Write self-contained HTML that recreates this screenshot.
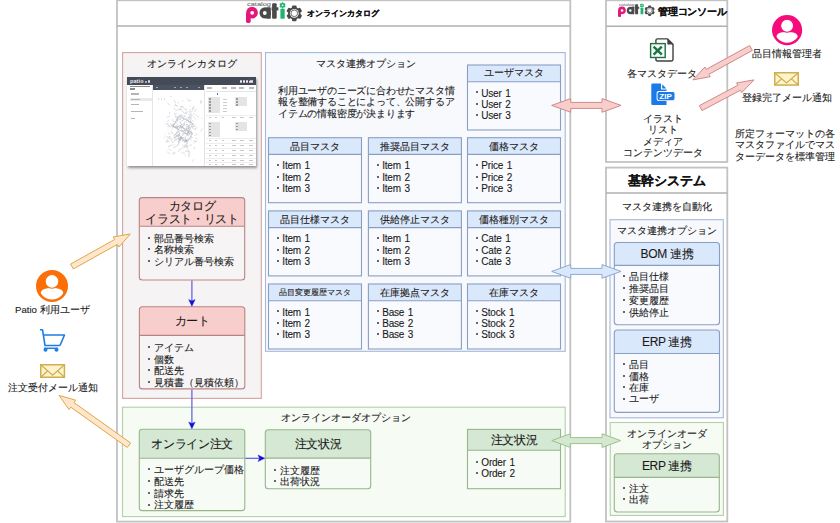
<!DOCTYPE html><html><head><meta charset="utf-8"><style>
html,body{margin:0;padding:0;background:#fff;} body{width:840px;height:523px;position:relative;overflow:hidden;font-family:"Liberation Sans", sans-serif;color:#222}
</style></head><body>
<svg style="position:absolute;left:0;top:0" width="840" height="523" viewBox="0 0 840 523"><rect x="117" y="0.3" width="453.30" height="521.30" rx="0" fill="#fff" stroke="#c2c2c2" stroke-width="1.8"/><line x1="117" y1="26" x2="570.3" y2="26" stroke="#b0b0b0" stroke-width="1.5"/><rect x="122.6" y="52.6" width="138.70" height="345.80" rx="0" fill="#f5f3f3" stroke="#d3a3a1" stroke-width="1.1"/><rect x="139.3" y="197.6" width="105.40" height="82.40" rx="3" fill="#f6f4f4"/><path d="M139.3,226.3 V200.6 a3,3 0 0 1 3,-3 H241.7 a3,3 0 0 1 3,3 V226.3 Z" fill="#f8cecc"/><line x1="139.3" y1="226.3" x2="244.7" y2="226.3" stroke="#b98584" stroke-width="1.1"/><rect x="139.3" y="197.6" width="105.40" height="82.40" rx="3" fill="none" stroke="#b98584" stroke-width="1.1"/><rect x="139.4" y="306.8" width="105.40" height="82.10" rx="3" fill="#f6f4f4"/><path d="M139.4,335.4 V309.8 a3,3 0 0 1 3,-3 H241.8 a3,3 0 0 1 3,3 V335.4 Z" fill="#f8cecc"/><line x1="139.4" y1="335.4" x2="244.8" y2="335.4" stroke="#b98584" stroke-width="1.1"/><rect x="139.4" y="306.8" width="105.40" height="82.10" rx="3" fill="none" stroke="#b98584" stroke-width="1.1"/><rect x="265.5" y="52.6" width="299.70" height="298.70" rx="0" fill="#f7f9fd" stroke="#a5b8da" stroke-width="1.1"/><rect x="467.5" y="65" width="93.00" height="65.00" rx="0" fill="#f8fafe"/><rect x="467.5" y="65" width="93.00" height="16.70" fill="#dae8fc"/><line x1="467.5" y1="81.7" x2="560.5" y2="81.7" stroke="#8a9ec4" stroke-width="1.1"/><rect x="467.5" y="65" width="93.00" height="65.00" rx="0" fill="none" stroke="#8a9ec4" stroke-width="1.1"/><rect x="268.5" y="137.7" width="93.00" height="65.00" rx="0" fill="#f8fafe"/><rect x="268.5" y="137.7" width="93.00" height="16.70" fill="#dae8fc"/><line x1="268.5" y1="154.39999999999998" x2="361.5" y2="154.39999999999998" stroke="#8a9ec4" stroke-width="1.1"/><rect x="268.5" y="137.7" width="93.00" height="65.00" rx="0" fill="none" stroke="#8a9ec4" stroke-width="1.1"/><rect x="368.4" y="137.7" width="93.00" height="65.00" rx="0" fill="#f8fafe"/><rect x="368.4" y="137.7" width="93.00" height="16.70" fill="#dae8fc"/><line x1="368.4" y1="154.39999999999998" x2="461.4" y2="154.39999999999998" stroke="#8a9ec4" stroke-width="1.1"/><rect x="368.4" y="137.7" width="93.00" height="65.00" rx="0" fill="none" stroke="#8a9ec4" stroke-width="1.1"/><rect x="467.5" y="137.7" width="93.00" height="65.00" rx="0" fill="#f8fafe"/><rect x="467.5" y="137.7" width="93.00" height="16.70" fill="#dae8fc"/><line x1="467.5" y1="154.39999999999998" x2="560.5" y2="154.39999999999998" stroke="#8a9ec4" stroke-width="1.1"/><rect x="467.5" y="137.7" width="93.00" height="65.00" rx="0" fill="none" stroke="#8a9ec4" stroke-width="1.1"/><rect x="268.5" y="210.9" width="93.00" height="65.00" rx="0" fill="#f8fafe"/><rect x="268.5" y="210.9" width="93.00" height="16.70" fill="#dae8fc"/><line x1="268.5" y1="227.6" x2="361.5" y2="227.6" stroke="#8a9ec4" stroke-width="1.1"/><rect x="268.5" y="210.9" width="93.00" height="65.00" rx="0" fill="none" stroke="#8a9ec4" stroke-width="1.1"/><rect x="368.4" y="210.9" width="93.00" height="65.00" rx="0" fill="#f8fafe"/><rect x="368.4" y="210.9" width="93.00" height="16.70" fill="#dae8fc"/><line x1="368.4" y1="227.6" x2="461.4" y2="227.6" stroke="#8a9ec4" stroke-width="1.1"/><rect x="368.4" y="210.9" width="93.00" height="65.00" rx="0" fill="none" stroke="#8a9ec4" stroke-width="1.1"/><rect x="467.5" y="210.9" width="93.00" height="65.00" rx="0" fill="#f8fafe"/><rect x="467.5" y="210.9" width="93.00" height="16.70" fill="#dae8fc"/><line x1="467.5" y1="227.6" x2="560.5" y2="227.6" stroke="#8a9ec4" stroke-width="1.1"/><rect x="467.5" y="210.9" width="93.00" height="65.00" rx="0" fill="none" stroke="#8a9ec4" stroke-width="1.1"/><rect x="268.5" y="284" width="93.00" height="65.00" rx="0" fill="#f8fafe"/><rect x="268.5" y="284" width="93.00" height="16.70" fill="#dae8fc"/><line x1="268.5" y1="300.7" x2="361.5" y2="300.7" stroke="#8a9ec4" stroke-width="1.1"/><rect x="268.5" y="284" width="93.00" height="65.00" rx="0" fill="none" stroke="#8a9ec4" stroke-width="1.1"/><rect x="368.4" y="284" width="93.00" height="65.00" rx="0" fill="#f8fafe"/><rect x="368.4" y="284" width="93.00" height="16.70" fill="#dae8fc"/><line x1="368.4" y1="300.7" x2="461.4" y2="300.7" stroke="#8a9ec4" stroke-width="1.1"/><rect x="368.4" y="284" width="93.00" height="65.00" rx="0" fill="none" stroke="#8a9ec4" stroke-width="1.1"/><rect x="467.5" y="284" width="93.00" height="65.00" rx="0" fill="#f8fafe"/><rect x="467.5" y="284" width="93.00" height="16.70" fill="#dae8fc"/><line x1="467.5" y1="300.7" x2="560.5" y2="300.7" stroke="#8a9ec4" stroke-width="1.1"/><rect x="467.5" y="284" width="93.00" height="65.00" rx="0" fill="none" stroke="#8a9ec4" stroke-width="1.1"/><rect x="122.5" y="407.2" width="442.70" height="109.40" rx="0" fill="#f6fbf4" stroke="#b3d0a8" stroke-width="1.1"/><rect x="139.3" y="429.3" width="105.50" height="81.30" rx="3" fill="#f7fbf6"/><path d="M139.3,458.3 V432.3 a3,3 0 0 1 3,-3 H241.8 a3,3 0 0 1 3,3 V458.3 Z" fill="#d5e8d4"/><line x1="139.3" y1="458.3" x2="244.8" y2="458.3" stroke="#98b58c" stroke-width="1.1"/><rect x="139.3" y="429.3" width="105.50" height="81.30" rx="3" fill="none" stroke="#98b58c" stroke-width="1.1"/><rect x="265.3" y="429.8" width="105.40" height="58.90" rx="3" fill="#f7fbf6"/><path d="M265.3,458.1 V432.8 a3,3 0 0 1 3,-3 H367.7 a3,3 0 0 1 3,3 V458.1 Z" fill="#d5e8d4"/><line x1="265.3" y1="458.1" x2="370.7" y2="458.1" stroke="#98b58c" stroke-width="1.1"/><rect x="265.3" y="429.8" width="105.40" height="58.90" rx="3" fill="none" stroke="#98b58c" stroke-width="1.1"/><rect x="467.5" y="429.4" width="93.00" height="59.30" rx="0" fill="#f7fbf6"/><rect x="467.5" y="429.4" width="93.00" height="20.90" fill="#d5e8d4"/><line x1="467.5" y1="450.3" x2="560.5" y2="450.3" stroke="#98b58c" stroke-width="1.1"/><rect x="467.5" y="429.4" width="93.00" height="59.30" rx="0" fill="none" stroke="#98b58c" stroke-width="1.1"/><rect x="606" y="0.3" width="121.30" height="161.70" rx="0" fill="#fff" stroke="#c2c2c2" stroke-width="1.8"/><line x1="606" y1="26.2" x2="727.3" y2="26.2" stroke="#b0b0b0" stroke-width="1.5"/><rect x="606" y="167.6" width="121.30" height="353.90" rx="0" fill="#fff" stroke="#c2c2c2" stroke-width="1.8"/><line x1="606" y1="192.9" x2="727.3" y2="192.9" stroke="#b0b0b0" stroke-width="1.5"/><rect x="610" y="219.7" width="113.30" height="198.10" rx="0" fill="#f7f9fd" stroke="#a5b8da" stroke-width="1.1"/><rect x="614.3" y="242.5" width="105.20" height="82.30" rx="3" fill="#f8fafe"/><path d="M614.3,265.4 V245.5 a3,3 0 0 1 3,-3 H716.5 a3,3 0 0 1 3,3 V265.4 Z" fill="#dae8fc"/><line x1="614.3" y1="265.4" x2="719.5" y2="265.4" stroke="#8a9ec4" stroke-width="1.1"/><rect x="614.3" y="242.5" width="105.20" height="82.30" rx="3" fill="none" stroke="#8a9ec4" stroke-width="1.1"/><rect x="614.3" y="330" width="105.20" height="82.40" rx="3" fill="#f8fafe"/><path d="M614.3,353.5 V333 a3,3 0 0 1 3,-3 H716.5 a3,3 0 0 1 3,3 V353.5 Z" fill="#dae8fc"/><line x1="614.3" y1="353.5" x2="719.5" y2="353.5" stroke="#8a9ec4" stroke-width="1.1"/><rect x="614.3" y="330" width="105.20" height="82.40" rx="3" fill="none" stroke="#8a9ec4" stroke-width="1.1"/><rect x="610.2" y="422.5" width="113.20" height="92.90" rx="0" fill="#f6fbf4" stroke="#b3d0a8" stroke-width="1.1"/><rect x="614.3" y="453.7" width="105.00" height="58.30" rx="3" fill="#f7fbf6"/><path d="M614.3,477.4 V456.7 a3,3 0 0 1 3,-3 H716.3 a3,3 0 0 1 3,3 V477.4 Z" fill="#d5e8d4"/><line x1="614.3" y1="477.4" x2="719.3" y2="477.4" stroke="#98b58c" stroke-width="1.1"/><rect x="614.3" y="453.7" width="105.00" height="58.30" rx="3" fill="none" stroke="#98b58c" stroke-width="1.1"/></svg>
<svg style="position:absolute;left:246px;top:0px;overflow:visible" width="58" height="24" viewBox="0 0 58 24">
<text x="1" y="6" font-size="5.6" fill="#555" font-family="Liberation Sans" textLength="24" lengthAdjust="spacingAndGlyphs">catalog</text>
<circle cx="6" cy="12.7" r="5.9" fill="#e4187b"/><rect x="0" y="12.5" width="4.7" height="10.4" rx="1.6" fill="#e4187b"/><circle cx="6.2" cy="12.8" r="1.9" fill="#fff"/>
<circle cx="19.2" cy="12.9" r="5.7" fill="#4a4a4a"/><rect x="20.3" y="7.2" width="4.5" height="11.6" rx="0.8" fill="#4a4a4a"/><circle cx="18.8" cy="13" r="1.9" fill="#fff"/>
<rect x="26.1" y="3.3" width="4.6" height="15.45" rx="1" fill="#4a4a4a"/><rect x="25.6" y="7.3" width="6.8" height="3.1" fill="#4a4a4a"/>
<rect x="34.4" y="8.8" width="4.3" height="9.95" rx="0.8" fill="#1db56f"/><g transform="translate(36.5,5.3)"><rect x="-0.9" y="-3.1" width="1.8" height="1.6" rx="0.5" transform="rotate(0)" fill="#1db56f"/><rect x="-0.9" y="-3.1" width="1.8" height="1.6" rx="0.5" transform="rotate(60)" fill="#1db56f"/><rect x="-0.9" y="-3.1" width="1.8" height="1.6" rx="0.5" transform="rotate(120)" fill="#1db56f"/><rect x="-0.9" y="-3.1" width="1.8" height="1.6" rx="0.5" transform="rotate(180)" fill="#1db56f"/><rect x="-0.9" y="-3.1" width="1.8" height="1.6" rx="0.5" transform="rotate(240)" fill="#1db56f"/><rect x="-0.9" y="-3.1" width="1.8" height="1.6" rx="0.5" transform="rotate(300)" fill="#1db56f"/><circle r="2.3" fill="#1db56f"/><circle r="0.9" fill="#fff"/></g>
<g transform="translate(48.3,13.3)"><rect x="-2.3" y="-7.9" width="4.6" height="4" rx="1.2" transform="rotate(0)" fill="#4a4a4a"/><rect x="-2.3" y="-7.9" width="4.6" height="4" rx="1.2" transform="rotate(60)" fill="#4a4a4a"/><rect x="-2.3" y="-7.9" width="4.6" height="4" rx="1.2" transform="rotate(120)" fill="#4a4a4a"/><rect x="-2.3" y="-7.9" width="4.6" height="4" rx="1.2" transform="rotate(180)" fill="#4a4a4a"/><rect x="-2.3" y="-7.9" width="4.6" height="4" rx="1.2" transform="rotate(240)" fill="#4a4a4a"/><rect x="-2.3" y="-7.9" width="4.6" height="4" rx="1.2" transform="rotate(300)" fill="#4a4a4a"/><circle r="6.2" fill="#4a4a4a"/><circle r="4.4" fill="#fff"/><circle r="3.3" fill="none" stroke="#4a4a4a" stroke-width="0.8"/></g>
</svg>
<div style="position:absolute;top:9.10px;font-size:8px;line-height:9.6px;color:#1a1a1a;white-space:nowrap;font-weight:bold;-webkit-text-stroke:0.15px #111;left:307px;">オンラインカタログ</div>
<div style="position:absolute;top:57.84px;font-size:9.6px;line-height:11.52px;color:#1a1a1a;white-space:nowrap;-webkit-text-stroke:0.1px #1a1a1a;left:-8px;width:400px;text-align:center;">オンラインカタログ</div>
<div style="position:absolute;left:127px;top:77px;width:129px;height:88.5px;background:#fff;box-shadow:1px 1.5px 2.5px rgba(0,0,0,0.4);overflow:hidden"><div style="position:absolute;left:0;top:0;width:129px;height:8.3px;background:#444a58"></div><div style="position:absolute;left:3px;top:0.5px;font:bold 5.5px/7px 'Liberation Sans',sans-serif;color:#e8e9ee;letter-spacing:0.1px">patio</div><div style="position:absolute;left:17.5px;top:3.5px;width:2px;height:2px;background:#aab"></div><div style="position:absolute;left:21px;top:3.3px;width:2.4px;height:2.4px;border-radius:50%;background:#dde"></div><div style="position:absolute;left:112.5px;top:3.3px;width:2.2px;height:2.4px;background:#e8e8ec;border-radius:1px"></div><div style="position:absolute;left:115.5px;top:3.3px;width:2.2px;height:2.4px;background:#e8e8ec;border-radius:1px"></div><div style="position:absolute;left:118.5px;top:3.3px;width:2.2px;height:2.4px;background:#e8e8ec;border-radius:1px"></div><div style="position:absolute;left:121.5px;top:3.3px;width:2.2px;height:2.4px;background:#e8e8ec;border-radius:1px"></div><div style="position:absolute;left:124px;top:3.3px;width:2.2px;height:2.4px;background:#e8e8ec;border-radius:1px"></div><div style="position:absolute;left:121.7px;top:2.2px;width:1.5px;height:1.5px;background:#e0245e;border-radius:50%"></div><div style="position:absolute;left:25.7px;top:8.3px;width:51.6px;height:4.7px;background:#4b5261"></div><div style="position:absolute;left:29px;top:9.8px;width:1.6px;height:1.6px;background:#9aa"></div><div style="position:absolute;left:47px;top:9.8px;width:1.6px;height:1.6px;background:#9aa"></div><div style="position:absolute;left:53px;top:9.8px;width:1.6px;height:1.6px;background:#9aa"></div><div style="position:absolute;left:59px;top:9.8px;width:1.6px;height:1.6px;background:#9aa"></div><div style="position:absolute;left:71px;top:9.8px;width:1.6px;height:1.6px;background:#9aa"></div><div style="position:absolute;left:25.2px;top:8.3px;width:0.6px;height:81px;background:#e6e6e6"></div><div style="position:absolute;left:2.5px;top:8.6px;width:20px;height:1.2px;background:#888"></div><div style="position:absolute;left:3px;top:11.3px;width:5px;height:1.3px;background:#888"></div><div style="position:absolute;left:2.8px;top:20.8px;width:22px;height:3.4px;background:#e9e9e9"></div><div style="position:absolute;left:4px;top:16.4px;width:8px;height:1.2px;background:#b5b5b5"></div><div style="position:absolute;left:4px;top:21.9px;width:9px;height:1.2px;background:#b5b5b5"></div><div style="position:absolute;left:4px;top:27.3px;width:8px;height:1.2px;background:#b5b5b5"></div><div style="position:absolute;left:4px;top:33.8px;width:12px;height:1.2px;background:#b5b5b5"></div><div style="position:absolute;left:4px;top:40.8px;width:4px;height:1.2px;background:#b5b5b5"></div><div style="position:absolute;left:77.3px;top:8.3px;width:0.6px;height:81px;background:#e3e3e3"></div><div style="position:absolute;left:80px;top:10.3px;width:5px;height:1.3px;background:#bbb"></div><div style="position:absolute;left:95px;top:10.3px;width:5px;height:1.3px;background:#bbb"></div><div style="position:absolute;left:104px;top:10.3px;width:5px;height:1.3px;background:#bbb"></div><div style="position:absolute;left:112px;top:10.3px;width:5px;height:1.3px;background:#bbb"></div><div style="position:absolute;left:122px;top:10.3px;width:5px;height:1.3px;background:#bbb"></div><div style="position:absolute;left:79px;top:14px;width:50px;height:0.5px;background:#e6e6e6"></div><div style="position:absolute;left:89.5px;top:15.5px;width:1.8px;height:2px;background:#3a74d8"></div><div style="position:absolute;left:80.5px;top:20.4px;width:12.5px;height:15.3px;background:#e4e4e4"></div><div style="position:absolute;left:81.5px;top:21.4px;width:2.5px;height:1.2px;background:#999"></div><div style="position:absolute;left:81.5px;top:24.4px;width:2.5px;height:1.2px;background:#999"></div><div style="position:absolute;left:81.5px;top:27.4px;width:2.5px;height:1.2px;background:#999"></div><div style="position:absolute;left:81.5px;top:30.4px;width:2.5px;height:1.2px;background:#999"></div><div style="position:absolute;left:81.5px;top:33.4px;width:2.5px;height:1.2px;background:#999"></div><div style="position:absolute;left:107.5px;top:20.4px;width:12.5px;height:9.1px;background:#e4e4e4"></div><div style="position:absolute;left:108.5px;top:21.4px;width:2.5px;height:1.2px;background:#999"></div><div style="position:absolute;left:108.5px;top:24.4px;width:2.5px;height:1.2px;background:#999"></div><div style="position:absolute;left:108.5px;top:27.4px;width:2.5px;height:1.2px;background:#999"></div><div style="position:absolute;left:80.5px;top:44.6px;width:12.5px;height:15.3px;background:#e4e4e4"></div><div style="position:absolute;left:81.5px;top:45.6px;width:2.5px;height:1.2px;background:#999"></div><div style="position:absolute;left:81.5px;top:48.6px;width:2.5px;height:1.2px;background:#999"></div><div style="position:absolute;left:81.5px;top:51.6px;width:2.5px;height:1.2px;background:#999"></div><div style="position:absolute;left:81.5px;top:54.6px;width:2.5px;height:1.2px;background:#999"></div><div style="position:absolute;left:81.5px;top:57.6px;width:2.5px;height:1.2px;background:#999"></div><div style="position:absolute;left:107.5px;top:44.6px;width:12.5px;height:9.1px;background:#e4e4e4"></div><div style="position:absolute;left:108.5px;top:45.6px;width:2.5px;height:1.2px;background:#999"></div><div style="position:absolute;left:108.5px;top:48.6px;width:2.5px;height:1.2px;background:#999"></div><div style="position:absolute;left:108.5px;top:51.6px;width:2.5px;height:1.2px;background:#999"></div><div style="position:absolute;left:96px;top:21.5px;width:4px;height:1px;background:#ccc"></div><div style="position:absolute;left:96px;top:24.5px;width:4px;height:1px;background:#ccc"></div><div style="position:absolute;left:96px;top:27.5px;width:4px;height:1px;background:#ccc"></div><div style="position:absolute;left:96px;top:30.5px;width:4px;height:1px;background:#ccc"></div><div style="position:absolute;left:96px;top:33.5px;width:4px;height:1px;background:#ccc"></div><div style="position:absolute;left:82px;top:40px;width:2px;height:1px;background:#c8c8c8"></div><div style="position:absolute;left:88px;top:40px;width:2px;height:1px;background:#c8c8c8"></div><div style="position:absolute;left:95px;top:40px;width:2px;height:1px;background:#c8c8c8"></div><div style="position:absolute;left:105px;top:40px;width:4px;height:1px;background:#c8c8c8"></div><div style="position:absolute;left:113px;top:40px;width:4px;height:1px;background:#c8c8c8"></div><div style="position:absolute;left:122px;top:40px;width:4px;height:1px;background:#c8c8c8"></div><div style="position:absolute;left:79px;top:38px;width:50px;height:0.4px;background:#eee"></div><div style="position:absolute;left:82px;top:63px;width:2px;height:1px;background:#c8c8c8"></div><div style="position:absolute;left:88px;top:63px;width:2px;height:1px;background:#c8c8c8"></div><div style="position:absolute;left:95px;top:63px;width:2px;height:1px;background:#c8c8c8"></div><div style="position:absolute;left:105px;top:63px;width:4px;height:1px;background:#c8c8c8"></div><div style="position:absolute;left:113px;top:63px;width:4px;height:1px;background:#c8c8c8"></div><div style="position:absolute;left:122px;top:63px;width:4px;height:1px;background:#c8c8c8"></div><div style="position:absolute;left:79px;top:61px;width:50px;height:0.4px;background:#eee"></div><div style="position:absolute;left:82px;top:68px;width:2px;height:1px;background:#c8c8c8"></div><div style="position:absolute;left:88px;top:68px;width:2px;height:1px;background:#c8c8c8"></div><div style="position:absolute;left:95px;top:68px;width:2px;height:1px;background:#c8c8c8"></div><div style="position:absolute;left:105px;top:68px;width:4px;height:1px;background:#c8c8c8"></div><div style="position:absolute;left:113px;top:68px;width:4px;height:1px;background:#c8c8c8"></div><div style="position:absolute;left:122px;top:68px;width:4px;height:1px;background:#c8c8c8"></div><div style="position:absolute;left:79px;top:66px;width:50px;height:0.4px;background:#eee"></div><div style="position:absolute;left:82px;top:73px;width:2px;height:1px;background:#c8c8c8"></div><div style="position:absolute;left:88px;top:73px;width:2px;height:1px;background:#c8c8c8"></div><div style="position:absolute;left:95px;top:73px;width:2px;height:1px;background:#c8c8c8"></div><div style="position:absolute;left:105px;top:73px;width:4px;height:1px;background:#c8c8c8"></div><div style="position:absolute;left:113px;top:73px;width:4px;height:1px;background:#c8c8c8"></div><div style="position:absolute;left:122px;top:73px;width:4px;height:1px;background:#c8c8c8"></div><div style="position:absolute;left:79px;top:71px;width:50px;height:0.4px;background:#eee"></div><div style="position:absolute;left:82px;top:78px;width:2px;height:1px;background:#c8c8c8"></div><div style="position:absolute;left:88px;top:78px;width:2px;height:1px;background:#c8c8c8"></div><div style="position:absolute;left:95px;top:78px;width:2px;height:1px;background:#c8c8c8"></div><div style="position:absolute;left:105px;top:78px;width:4px;height:1px;background:#c8c8c8"></div><div style="position:absolute;left:113px;top:78px;width:4px;height:1px;background:#c8c8c8"></div><div style="position:absolute;left:122px;top:78px;width:4px;height:1px;background:#c8c8c8"></div><div style="position:absolute;left:79px;top:76px;width:50px;height:0.4px;background:#eee"></div><div style="position:absolute;left:82px;top:83px;width:2px;height:1px;background:#c8c8c8"></div><div style="position:absolute;left:88px;top:83px;width:2px;height:1px;background:#c8c8c8"></div><div style="position:absolute;left:95px;top:83px;width:2px;height:1px;background:#c8c8c8"></div><div style="position:absolute;left:105px;top:83px;width:4px;height:1px;background:#c8c8c8"></div><div style="position:absolute;left:113px;top:83px;width:4px;height:1px;background:#c8c8c8"></div><div style="position:absolute;left:122px;top:83px;width:4px;height:1px;background:#c8c8c8"></div><div style="position:absolute;left:79px;top:81px;width:50px;height:0.4px;background:#eee"></div><div style="position:absolute;left:82px;top:87px;width:2px;height:1px;background:#c8c8c8"></div><div style="position:absolute;left:88px;top:87px;width:2px;height:1px;background:#c8c8c8"></div><div style="position:absolute;left:95px;top:87px;width:2px;height:1px;background:#c8c8c8"></div><div style="position:absolute;left:105px;top:87px;width:4px;height:1px;background:#c8c8c8"></div><div style="position:absolute;left:113px;top:87px;width:4px;height:1px;background:#c8c8c8"></div><div style="position:absolute;left:122px;top:87px;width:4px;height:1px;background:#c8c8c8"></div><div style="position:absolute;left:79px;top:85px;width:50px;height:0.4px;background:#eee"></div><svg style="position:absolute;left:0;top:0" width="129" height="89"><path d="M55.9,69.5L54.9,70.2M38.2,56.9L38.0,57.9M62.5,68.1L65.0,68.3M54.3,31.1L51.2,33.0M48.6,45.6L45.3,48.1M40.9,55.8L43.5,57.3M62.9,45.3L65.0,44.9M72.0,40.7L69.2,38.1M43.4,59.7L42.0,59.7M48.7,60.6L49.3,61.1M46.4,22.7L48.9,26.1M52.5,44.6L55.0,47.9M42.1,42.7L40.1,45.0M48.4,46.9L45.3,49.4M50.8,75.1L53.4,71.9M52.9,49.2L54.5,48.0M65.6,50.0L69.1,48.7M65.8,60.8L62.5,58.7M44.7,62.5L42.2,59.3M60.3,43.0L63.5,45.8M47.8,62.8L47.9,63.8M45.5,41.9L46.3,45.0M45.4,51.3L47.0,49.5M43.8,49.7L40.3,49.1M48.0,40.7L49.2,39.7M51.1,29.9L47.7,26.8M44.6,19.8L42.9,19.5M48.4,45.2L47.4,43.9M46.8,65.8L45.4,64.9M57.8,76.9L56.0,74.7M42.2,60.6L39.4,59.3M46.4,74.9L46.0,77.4M55.7,59.0L55.9,56.9M58.0,44.4L56.5,46.6M57.9,39.9L55.3,38.5M56.9,41.3L55.9,40.7M46.9,58.9L49.9,56.5M74.3,23.8L73.9,26.9M60.7,47.6L62.4,50.0M48.7,45.9L50.9,42.7M66.4,39.7L69.3,42.5M64.5,41.2L61.1,42.9M66.5,44.8L65.4,43.1M61.6,39.8L63.6,38.8M58.6,68.4L60.8,66.1M60.3,21.5L62.4,23.7M67.7,52.9L70.2,49.8M47.3,68.2L47.9,67.3M57.9,63.7L55.3,64.0M52.3,55.9L50.1,55.0M56.8,38.6L58.9,39.5M47.1,57.6L47.1,59.1M42.8,62.3L42.6,60.5M41.5,47.2L38.5,46.7M38.5,64.9L41.5,64.1M67.8,37.2L66.1,36.9M66.8,69.9L67.9,72.6M58.5,32.0L60.2,32.4M64.6,63.2L61.1,60.8M55.4,47.8L52.6,45.0M55.8,54.8L58.2,52.1M47.1,28.4L50.3,28.9M55.7,48.4L57.6,48.5M66.7,66.5L69.8,63.4M49.8,68.1L52.1,66.3M42.3,64.1L39.9,65.4M55.5,31.1L55.6,30.9M43.0,28.6L40.6,25.8M54.8,20.8L54.9,20.4M53.9,43.2L52.3,41.1M52.4,38.1L54.9,38.7M65.3,51.1L66.0,50.9M63.5,29.6L63.9,29.5M51.8,24.9L51.1,26.5M64.8,48.1L62.9,46.3M52.3,31.4L55.5,33.9M55.3,61.1L53.6,58.9M67.2,28.7L65.5,31.3M58.8,42.0L57.8,42.5M58.0,70.0L61.1,69.2M70.0,32.1L67.1,35.1M44.1,69.1L45.9,67.7M49.1,33.8L51.3,32.1M49.8,36.6L47.1,36.6M46.4,69.8L47.7,70.3M60.4,70.4L61.3,68.1M65.1,39.0L62.5,42.0M60.1,61.8L61.6,62.4M49.0,39.6L47.7,37.3M68.0,61.3L69.8,61.6M54.4,38.8L52.8,38.0M56.8,49.1L56.9,47.3M50.1,62.0L49.4,62.3M44.5,73.6L41.8,72.0M58.5,65.5L60.2,67.7M50.8,47.7L50.0,45.6M61.2,24.1L64.4,23.3M43.7,46.0L44.7,49.3M52.1,41.1L54.6,41.0M43.3,38.6L39.9,40.5M49.5,38.1L49.7,37.9M58.8,68.1L55.6,68.1M49.1,40.0L49.5,43.2M50.8,59.9L47.9,60.1M46.9,77.4L48.3,74.8M62.7,37.2L65.7,38.8M54.5,39.2L56.6,42.2M61.2,40.5L63.0,40.4M41.1,52.4L41.3,51.8M50.5,42.4L50.2,44.2M47.4,64.5L48.1,62.5M47.6,60.0L44.3,63.3M55.8,58.1L55.6,55.8M57.4,36.8L60.4,35.4M66.3,63.8L69.6,64.4M67.4,58.8L70.2,56.7M65.1,49.4L67.2,52.3M57.2,50.6L55.8,51.4M48.1,70.2L51.1,68.0M54.1,29.3L56.4,29.6M62.6,45.9L62.0,44.0M56.9,36.2L55.3,33.9M52.7,33.2L54.2,32.4M55.7,31.0L52.9,29.1M62.2,35.3L64.8,37.9M36.8,61.2L38.4,60.1M57.2,69.7L56.6,71.7M42.4,37.0L42.7,34.8M57.9,77.9L58.7,78.9M56.3,23.7L55.2,24.4M50.9,54.3L53.2,54.9M58.1,68.8L57.8,70.4M62.3,58.0L62.2,55.0M54.1,37.4L55.2,38.1M60.4,57.0L58.1,60.0M73.7,22.9L74.4,25.9M45.9,48.8L49.0,51.6M64.8,47.0L66.8,46.3M75.2,51.5L73.8,54.5M56.6,57.8L58.2,56.3M46.7,71.1L48.4,69.6M56.1,30.3L59.5,33.7M61.2,42.5L58.8,41.2M44.3,55.9L44.6,54.9M59.4,42.8L59.2,45.5M57.7,41.0L55.9,43.1M60.8,54.9L62.7,54.7M65.7,57.6L62.9,56.3M55.3,77.2L54.7,75.5M64.2,56.0L65.1,57.3M57.4,42.2L54.9,44.0M57.6,35.8L60.0,36.2M54.0,60.4L50.6,61.4M63.4,43.3L64.6,46.3M59.8,34.5L59.2,34.6M57.7,59.8L59.0,63.3M65.0,30.9L68.0,31.7M66.5,55.5L66.9,55.4M52.4,73.6L55.2,70.8M50.8,40.2L50.9,43.0M67.5,47.0L65.4,50.0M75.5,41.6L74.3,40.8M55.8,61.3L52.8,61.5M61.7,35.2L63.9,31.7M61.4,56.7L61.3,55.0M61.3,55.0L64.5,52.5M49.1,34.0L46.6,30.9M55.3,43.3L53.2,45.6M46.4,49.0L43.6,48.3M43.0,76.9L40.0,74.7M52.7,40.4L49.4,39.3M54.8,27.6L55.3,27.3M45.6,48.4L45.8,50.7M58.7,69.9L61.7,72.3M64.9,84.5L67.3,82.2M58.1,47.0L54.7,49.6M68.7,50.9L68.8,52.7M64.4,61.6L64.0,59.1M48.6,44.7L48.6,43.8M51.5,64.0L52.2,67.4M66.1,31.7L64.6,35.1M50.5,43.0L53.8,42.6M44.0,54.4L46.6,57.8M45.4,49.3L46.3,46.3M39.4,64.3L41.4,61.2M60.4,41.1L63.8,40.1M57.5,69.2L60.2,68.7M64.5,35.7L63.6,34.3M45.9,51.5L45.0,52.6M63.4,38.9L61.0,36.9M46.4,66.0L43.9,63.1M51.8,62.3L48.6,62.6M40.6,47.1L42.9,49.5M63.3,44.2L64.6,41.5M61.4,42.7L61.2,45.4" stroke="#c2c4cc" stroke-width="0.55" fill="none"/><path d="M52.7,48.3L49.3,50.7M58.9,51.6L61.0,51.0M53.4,50.6L54.2,51.6M55.3,48.8L55.8,50.4M59.0,63.1L60.0,65.8M47.6,50.6L46.5,48.7M58.6,62.4L59.7,62.6M54.0,63.0L54.2,62.4M55.1,51.2L52.0,48.6M57.3,47.3L57.3,46.0M57.9,61.6L58.7,63.4M48.9,62.4L47.9,61.8M52.4,61.3L53.7,64.5M54.3,61.8L51.0,61.6M59.0,63.7L57.7,65.6M51.3,65.5L52.9,62.6M54.5,50.5L53.4,50.1M50.6,50.1L49.1,51.2M58.6,56.0L60.5,57.6M49.5,48.1L47.8,50.1M58.8,47.3L60.8,48.1M57.1,54.6L54.1,52.5M50.4,57.1L53.2,58.7M61.2,52.2L63.1,49.7M57.1,61.0L54.8,60.4M59.3,53.2L57.0,53.1M64.7,54.1L64.1,55.6M52.4,57.9L49.2,59.5M55.0,63.0L57.2,63.9M57.2,52.1L54.4,49.8M61.4,58.1L63.8,55.4M49.8,52.7L51.3,49.3M52.6,55.9L51.9,59.1M51.1,49.2L48.1,50.2M59.9,54.4L61.0,55.0M56.6,57.1L58.9,54.4M60.9,50.0L63.6,47.1M56.9,64.7L60.3,63.5M53.3,48.9L55.1,47.3M61.0,59.1L60.4,56.2M59.8,52.5L60.0,52.7M60.6,54.0L57.2,53.5M48.0,59.1L47.7,61.2M60.1,49.9L58.8,50.1M58.7,64.5L61.0,63.2M54.0,59.3L52.3,62.6M62.3,51.1L59.7,48.6M61.7,50.7L60.7,53.8M54.4,61.4L51.3,64.7M54.4,59.1L54.4,60.7M53.7,60.8L55.9,61.5M63.2,54.3L59.8,56.6" stroke="#a9acb6" stroke-width="0.6" fill="none"/><rect x="48" y="42" width="16" height="12" fill="none" stroke="#b4b6be" stroke-width="0.6" transform="rotate(30 56 48)"/><rect x="50" y="52" width="14" height="10" fill="none" stroke="#b4b6be" stroke-width="0.6" transform="rotate(30 57 57)"/><path d="M58,74 h4 v6" stroke="#bbb" stroke-width="0.6" fill="none"/><path d="M41,70 l3,-2" stroke="#bbb" stroke-width="0.6"/><path d="M31,22 h1 M34,22 h1 M37,22 h1" stroke="#aaa" stroke-width="0.8"/></svg></div>
<div style="position:absolute;top:198.70px;font-size:12px;line-height:14.399999999999999px;color:#1a1a1a;white-space:nowrap;-webkit-text-stroke:0.1px #1a1a1a;left:-8.0px;width:400px;text-align:center;letter-spacing:-0.35px;">カタログ</div>
<div style="position:absolute;top:212.40px;font-size:12px;line-height:14.399999999999999px;color:#1a1a1a;white-space:nowrap;-webkit-text-stroke:0.1px #1a1a1a;left:-8.0px;width:400px;text-align:center;letter-spacing:-0.35px;">イラスト・リスト</div>
<div style="position:absolute;left:148.00px;top:236.70px;width:2px;height:2px;border-radius:50%;background:#333"></div>
<div style="position:absolute;top:232.64px;font-size:9.6px;line-height:11.52px;color:#1a1a1a;white-space:nowrap;-webkit-text-stroke:0.1px #1a1a1a;left:154px;">部品番号検索</div>
<div style="position:absolute;left:148.00px;top:248.30px;width:2px;height:2px;border-radius:50%;background:#333"></div>
<div style="position:absolute;top:244.24px;font-size:9.6px;line-height:11.52px;color:#1a1a1a;white-space:nowrap;-webkit-text-stroke:0.1px #1a1a1a;left:154px;">名称検索</div>
<div style="position:absolute;left:148.00px;top:259.90px;width:2px;height:2px;border-radius:50%;background:#333"></div>
<div style="position:absolute;top:255.84px;font-size:9.6px;line-height:11.52px;color:#1a1a1a;white-space:nowrap;-webkit-text-stroke:0.1px #1a1a1a;left:154px;">シリアル番号検索</div>
<div style="position:absolute;top:313.70px;font-size:12px;line-height:14.399999999999999px;color:#1a1a1a;white-space:nowrap;-webkit-text-stroke:0.1px #1a1a1a;left:-7.899999999999977px;width:400px;text-align:center;letter-spacing:-0.35px;">カート</div>
<div style="position:absolute;left:148.00px;top:346.00px;width:2px;height:2px;border-radius:50%;background:#333"></div>
<div style="position:absolute;top:341.94px;font-size:9.6px;line-height:11.52px;color:#1a1a1a;white-space:nowrap;-webkit-text-stroke:0.1px #1a1a1a;left:154px;">アイテム</div>
<div style="position:absolute;left:148.00px;top:357.60px;width:2px;height:2px;border-radius:50%;background:#333"></div>
<div style="position:absolute;top:353.54px;font-size:9.6px;line-height:11.52px;color:#1a1a1a;white-space:nowrap;-webkit-text-stroke:0.1px #1a1a1a;left:154px;">個数</div>
<div style="position:absolute;left:148.00px;top:369.20px;width:2px;height:2px;border-radius:50%;background:#333"></div>
<div style="position:absolute;top:365.14px;font-size:9.6px;line-height:11.52px;color:#1a1a1a;white-space:nowrap;-webkit-text-stroke:0.1px #1a1a1a;left:154px;">配送先</div>
<div style="position:absolute;left:148.00px;top:380.80px;width:2px;height:2px;border-radius:50%;background:#333"></div>
<div style="position:absolute;top:376.74px;font-size:9.6px;line-height:11.52px;color:#1a1a1a;white-space:nowrap;-webkit-text-stroke:0.1px #1a1a1a;left:154px;">見積書（見積依頼）</div>
<div style="position:absolute;top:58.24px;font-size:9.6px;line-height:11.52px;color:#1a1a1a;white-space:nowrap;-webkit-text-stroke:0.1px #1a1a1a;left:316px;">マスタ連携オプション</div>
<div style="position:absolute;top:84.80px;font-size:9.6px;line-height:11.6px;color:#1a1a1a;white-space:nowrap;-webkit-text-stroke:0.1px #1a1a1a;left:278px;letter-spacing:-0.2px;">利用ユーザのニーズに合わせたマスタ情<br>報を整備することによって、公開するア<br>イテムの情報密度が決まります</div>
<div style="position:absolute;top:67.19px;font-size:9.6px;line-height:11.52px;color:#1a1a1a;white-space:nowrap;-webkit-text-stroke:0.1px #1a1a1a;left:314.0px;width:400px;text-align:center;">ユーザマスタ</div>
<div style="position:absolute;left:476.00px;top:91.40px;width:2px;height:2px;border-radius:50%;background:#333"></div>
<div style="position:absolute;top:87.50px;font-size:10px;line-height:12.0px;color:#1a1a1a;white-space:nowrap;-webkit-text-stroke:0.1px #1a1a1a;left:481.3px;letter-spacing:-0.2px;word-spacing:1px;">User 1</div>
<div style="position:absolute;left:476.00px;top:102.80px;width:2px;height:2px;border-radius:50%;background:#333"></div>
<div style="position:absolute;top:98.90px;font-size:10px;line-height:12.0px;color:#1a1a1a;white-space:nowrap;-webkit-text-stroke:0.1px #1a1a1a;left:481.3px;letter-spacing:-0.2px;word-spacing:1px;">User 2</div>
<div style="position:absolute;left:476.00px;top:114.20px;width:2px;height:2px;border-radius:50%;background:#333"></div>
<div style="position:absolute;top:110.30px;font-size:10px;line-height:12.0px;color:#1a1a1a;white-space:nowrap;-webkit-text-stroke:0.1px #1a1a1a;left:481.3px;letter-spacing:-0.2px;word-spacing:1px;">User 3</div>
<div style="position:absolute;top:140.89px;font-size:9.6px;line-height:11.52px;color:#1a1a1a;white-space:nowrap;-webkit-text-stroke:0.1px #1a1a1a;left:115.0px;width:400px;text-align:center;">品目マスタ</div>
<div style="position:absolute;left:277.00px;top:164.10px;width:2px;height:2px;border-radius:50%;background:#333"></div>
<div style="position:absolute;top:160.20px;font-size:10px;line-height:12.0px;color:#1a1a1a;white-space:nowrap;-webkit-text-stroke:0.1px #1a1a1a;left:282.3px;letter-spacing:-0.2px;word-spacing:1px;">Item 1</div>
<div style="position:absolute;left:277.00px;top:175.50px;width:2px;height:2px;border-radius:50%;background:#333"></div>
<div style="position:absolute;top:171.60px;font-size:10px;line-height:12.0px;color:#1a1a1a;white-space:nowrap;-webkit-text-stroke:0.1px #1a1a1a;left:282.3px;letter-spacing:-0.2px;word-spacing:1px;">Item 2</div>
<div style="position:absolute;left:277.00px;top:186.90px;width:2px;height:2px;border-radius:50%;background:#333"></div>
<div style="position:absolute;top:183.00px;font-size:10px;line-height:12.0px;color:#1a1a1a;white-space:nowrap;-webkit-text-stroke:0.1px #1a1a1a;left:282.3px;letter-spacing:-0.2px;word-spacing:1px;">Item 3</div>
<div style="position:absolute;top:140.89px;font-size:9.6px;line-height:11.52px;color:#1a1a1a;white-space:nowrap;-webkit-text-stroke:0.1px #1a1a1a;left:214.89999999999998px;width:400px;text-align:center;">推奨品目マスタ</div>
<div style="position:absolute;left:376.90px;top:164.10px;width:2px;height:2px;border-radius:50%;background:#333"></div>
<div style="position:absolute;top:160.20px;font-size:10px;line-height:12.0px;color:#1a1a1a;white-space:nowrap;-webkit-text-stroke:0.1px #1a1a1a;left:382.2px;letter-spacing:-0.2px;word-spacing:1px;">Item 1</div>
<div style="position:absolute;left:376.90px;top:175.50px;width:2px;height:2px;border-radius:50%;background:#333"></div>
<div style="position:absolute;top:171.60px;font-size:10px;line-height:12.0px;color:#1a1a1a;white-space:nowrap;-webkit-text-stroke:0.1px #1a1a1a;left:382.2px;letter-spacing:-0.2px;word-spacing:1px;">Item 2</div>
<div style="position:absolute;left:376.90px;top:186.90px;width:2px;height:2px;border-radius:50%;background:#333"></div>
<div style="position:absolute;top:183.00px;font-size:10px;line-height:12.0px;color:#1a1a1a;white-space:nowrap;-webkit-text-stroke:0.1px #1a1a1a;left:382.2px;letter-spacing:-0.2px;word-spacing:1px;">Item 3</div>
<div style="position:absolute;top:140.89px;font-size:9.6px;line-height:11.52px;color:#1a1a1a;white-space:nowrap;-webkit-text-stroke:0.1px #1a1a1a;left:314.0px;width:400px;text-align:center;">価格マスタ</div>
<div style="position:absolute;left:476.00px;top:164.10px;width:2px;height:2px;border-radius:50%;background:#333"></div>
<div style="position:absolute;top:160.20px;font-size:10px;line-height:12.0px;color:#1a1a1a;white-space:nowrap;-webkit-text-stroke:0.1px #1a1a1a;left:481.3px;letter-spacing:-0.2px;word-spacing:1px;">Price 1</div>
<div style="position:absolute;left:476.00px;top:175.50px;width:2px;height:2px;border-radius:50%;background:#333"></div>
<div style="position:absolute;top:171.60px;font-size:10px;line-height:12.0px;color:#1a1a1a;white-space:nowrap;-webkit-text-stroke:0.1px #1a1a1a;left:481.3px;letter-spacing:-0.2px;word-spacing:1px;">Price 2</div>
<div style="position:absolute;left:476.00px;top:186.90px;width:2px;height:2px;border-radius:50%;background:#333"></div>
<div style="position:absolute;top:183.00px;font-size:10px;line-height:12.0px;color:#1a1a1a;white-space:nowrap;-webkit-text-stroke:0.1px #1a1a1a;left:481.3px;letter-spacing:-0.2px;word-spacing:1px;">Price 3</div>
<div style="position:absolute;top:214.09px;font-size:9.6px;line-height:11.52px;color:#1a1a1a;white-space:nowrap;-webkit-text-stroke:0.1px #1a1a1a;left:115.0px;width:400px;text-align:center;">品目仕様マスタ</div>
<div style="position:absolute;left:277.00px;top:237.30px;width:2px;height:2px;border-radius:50%;background:#333"></div>
<div style="position:absolute;top:233.40px;font-size:10px;line-height:12.0px;color:#1a1a1a;white-space:nowrap;-webkit-text-stroke:0.1px #1a1a1a;left:282.3px;letter-spacing:-0.2px;word-spacing:1px;">Item 1</div>
<div style="position:absolute;left:277.00px;top:248.70px;width:2px;height:2px;border-radius:50%;background:#333"></div>
<div style="position:absolute;top:244.80px;font-size:10px;line-height:12.0px;color:#1a1a1a;white-space:nowrap;-webkit-text-stroke:0.1px #1a1a1a;left:282.3px;letter-spacing:-0.2px;word-spacing:1px;">Item 2</div>
<div style="position:absolute;left:277.00px;top:260.10px;width:2px;height:2px;border-radius:50%;background:#333"></div>
<div style="position:absolute;top:256.20px;font-size:10px;line-height:12.0px;color:#1a1a1a;white-space:nowrap;-webkit-text-stroke:0.1px #1a1a1a;left:282.3px;letter-spacing:-0.2px;word-spacing:1px;">Item 3</div>
<div style="position:absolute;top:214.09px;font-size:9.6px;line-height:11.52px;color:#1a1a1a;white-space:nowrap;-webkit-text-stroke:0.1px #1a1a1a;left:214.89999999999998px;width:400px;text-align:center;">供給停止マスタ</div>
<div style="position:absolute;left:376.90px;top:237.30px;width:2px;height:2px;border-radius:50%;background:#333"></div>
<div style="position:absolute;top:233.40px;font-size:10px;line-height:12.0px;color:#1a1a1a;white-space:nowrap;-webkit-text-stroke:0.1px #1a1a1a;left:382.2px;letter-spacing:-0.2px;word-spacing:1px;">Item 1</div>
<div style="position:absolute;left:376.90px;top:248.70px;width:2px;height:2px;border-radius:50%;background:#333"></div>
<div style="position:absolute;top:244.80px;font-size:10px;line-height:12.0px;color:#1a1a1a;white-space:nowrap;-webkit-text-stroke:0.1px #1a1a1a;left:382.2px;letter-spacing:-0.2px;word-spacing:1px;">Item 2</div>
<div style="position:absolute;left:376.90px;top:260.10px;width:2px;height:2px;border-radius:50%;background:#333"></div>
<div style="position:absolute;top:256.20px;font-size:10px;line-height:12.0px;color:#1a1a1a;white-space:nowrap;-webkit-text-stroke:0.1px #1a1a1a;left:382.2px;letter-spacing:-0.2px;word-spacing:1px;">Item 3</div>
<div style="position:absolute;top:214.09px;font-size:9.6px;line-height:11.52px;color:#1a1a1a;white-space:nowrap;-webkit-text-stroke:0.1px #1a1a1a;left:314.0px;width:400px;text-align:center;">価格種別マスタ</div>
<div style="position:absolute;left:476.00px;top:237.30px;width:2px;height:2px;border-radius:50%;background:#333"></div>
<div style="position:absolute;top:233.40px;font-size:10px;line-height:12.0px;color:#1a1a1a;white-space:nowrap;-webkit-text-stroke:0.1px #1a1a1a;left:481.3px;letter-spacing:-0.2px;word-spacing:1px;">Cate 1</div>
<div style="position:absolute;left:476.00px;top:248.70px;width:2px;height:2px;border-radius:50%;background:#333"></div>
<div style="position:absolute;top:244.80px;font-size:10px;line-height:12.0px;color:#1a1a1a;white-space:nowrap;-webkit-text-stroke:0.1px #1a1a1a;left:481.3px;letter-spacing:-0.2px;word-spacing:1px;">Cate 2</div>
<div style="position:absolute;left:476.00px;top:260.10px;width:2px;height:2px;border-radius:50%;background:#333"></div>
<div style="position:absolute;top:256.20px;font-size:10px;line-height:12.0px;color:#1a1a1a;white-space:nowrap;-webkit-text-stroke:0.1px #1a1a1a;left:481.3px;letter-spacing:-0.2px;word-spacing:1px;">Cate 3</div>
<div style="position:absolute;top:288.15px;font-size:8px;line-height:9.6px;color:#1a1a1a;white-space:nowrap;-webkit-text-stroke:0.1px #1a1a1a;left:115.0px;width:400px;text-align:center;">品目変更履歴マスタ</div>
<div style="position:absolute;left:277.00px;top:310.40px;width:2px;height:2px;border-radius:50%;background:#333"></div>
<div style="position:absolute;top:306.50px;font-size:10px;line-height:12.0px;color:#1a1a1a;white-space:nowrap;-webkit-text-stroke:0.1px #1a1a1a;left:282.3px;letter-spacing:-0.2px;word-spacing:1px;">Item 1</div>
<div style="position:absolute;left:277.00px;top:321.80px;width:2px;height:2px;border-radius:50%;background:#333"></div>
<div style="position:absolute;top:317.90px;font-size:10px;line-height:12.0px;color:#1a1a1a;white-space:nowrap;-webkit-text-stroke:0.1px #1a1a1a;left:282.3px;letter-spacing:-0.2px;word-spacing:1px;">Item 2</div>
<div style="position:absolute;left:277.00px;top:333.20px;width:2px;height:2px;border-radius:50%;background:#333"></div>
<div style="position:absolute;top:329.30px;font-size:10px;line-height:12.0px;color:#1a1a1a;white-space:nowrap;-webkit-text-stroke:0.1px #1a1a1a;left:282.3px;letter-spacing:-0.2px;word-spacing:1px;">Item 3</div>
<div style="position:absolute;top:287.19px;font-size:9.6px;line-height:11.52px;color:#1a1a1a;white-space:nowrap;-webkit-text-stroke:0.1px #1a1a1a;left:214.89999999999998px;width:400px;text-align:center;">在庫拠点マスタ</div>
<div style="position:absolute;left:376.90px;top:310.40px;width:2px;height:2px;border-radius:50%;background:#333"></div>
<div style="position:absolute;top:306.50px;font-size:10px;line-height:12.0px;color:#1a1a1a;white-space:nowrap;-webkit-text-stroke:0.1px #1a1a1a;left:382.2px;letter-spacing:-0.2px;word-spacing:1px;">Base 1</div>
<div style="position:absolute;left:376.90px;top:321.80px;width:2px;height:2px;border-radius:50%;background:#333"></div>
<div style="position:absolute;top:317.90px;font-size:10px;line-height:12.0px;color:#1a1a1a;white-space:nowrap;-webkit-text-stroke:0.1px #1a1a1a;left:382.2px;letter-spacing:-0.2px;word-spacing:1px;">Base 2</div>
<div style="position:absolute;left:376.90px;top:333.20px;width:2px;height:2px;border-radius:50%;background:#333"></div>
<div style="position:absolute;top:329.30px;font-size:10px;line-height:12.0px;color:#1a1a1a;white-space:nowrap;-webkit-text-stroke:0.1px #1a1a1a;left:382.2px;letter-spacing:-0.2px;word-spacing:1px;">Base 3</div>
<div style="position:absolute;top:287.19px;font-size:9.6px;line-height:11.52px;color:#1a1a1a;white-space:nowrap;-webkit-text-stroke:0.1px #1a1a1a;left:314.0px;width:400px;text-align:center;">在庫マスタ</div>
<div style="position:absolute;left:476.00px;top:310.40px;width:2px;height:2px;border-radius:50%;background:#333"></div>
<div style="position:absolute;top:306.50px;font-size:10px;line-height:12.0px;color:#1a1a1a;white-space:nowrap;-webkit-text-stroke:0.1px #1a1a1a;left:481.3px;letter-spacing:-0.2px;word-spacing:1px;">Stock 1</div>
<div style="position:absolute;left:476.00px;top:321.80px;width:2px;height:2px;border-radius:50%;background:#333"></div>
<div style="position:absolute;top:317.90px;font-size:10px;line-height:12.0px;color:#1a1a1a;white-space:nowrap;-webkit-text-stroke:0.1px #1a1a1a;left:481.3px;letter-spacing:-0.2px;word-spacing:1px;">Stock 2</div>
<div style="position:absolute;left:476.00px;top:333.20px;width:2px;height:2px;border-radius:50%;background:#333"></div>
<div style="position:absolute;top:329.30px;font-size:10px;line-height:12.0px;color:#1a1a1a;white-space:nowrap;-webkit-text-stroke:0.1px #1a1a1a;left:481.3px;letter-spacing:-0.2px;word-spacing:1px;">Stock 3</div>
<div style="position:absolute;top:411.84px;font-size:9.6px;line-height:11.52px;color:#1a1a1a;white-space:nowrap;-webkit-text-stroke:0.1px #1a1a1a;left:281.3px;">オンラインオーダオプション</div>
<div style="position:absolute;top:437.20px;font-size:12px;line-height:14.399999999999999px;color:#1a1a1a;white-space:nowrap;-webkit-text-stroke:0.1px #1a1a1a;left:-7.949999999999989px;width:400px;text-align:center;letter-spacing:-0.35px;">オンライン注文</div>
<div style="position:absolute;left:148.00px;top:468.10px;width:2px;height:2px;border-radius:50%;background:#333"></div>
<div style="position:absolute;top:464.04px;font-size:9.6px;line-height:11.52px;color:#1a1a1a;white-space:nowrap;-webkit-text-stroke:0.1px #1a1a1a;left:154px;">ユーザグループ価格</div>
<div style="position:absolute;left:148.00px;top:479.90px;width:2px;height:2px;border-radius:50%;background:#333"></div>
<div style="position:absolute;top:475.84px;font-size:9.6px;line-height:11.52px;color:#1a1a1a;white-space:nowrap;-webkit-text-stroke:0.1px #1a1a1a;left:154px;">配送先</div>
<div style="position:absolute;left:148.00px;top:491.70px;width:2px;height:2px;border-radius:50%;background:#333"></div>
<div style="position:absolute;top:487.64px;font-size:9.6px;line-height:11.52px;color:#1a1a1a;white-space:nowrap;-webkit-text-stroke:0.1px #1a1a1a;left:154px;">請求先</div>
<div style="position:absolute;left:148.00px;top:503.50px;width:2px;height:2px;border-radius:50%;background:#333"></div>
<div style="position:absolute;top:499.44px;font-size:9.6px;line-height:11.52px;color:#1a1a1a;white-space:nowrap;-webkit-text-stroke:0.1px #1a1a1a;left:154px;">注文履歴</div>
<div style="position:absolute;top:437.35px;font-size:12px;line-height:14.399999999999999px;color:#1a1a1a;white-space:nowrap;-webkit-text-stroke:0.1px #1a1a1a;left:118.0px;width:400px;text-align:center;letter-spacing:-0.35px;">注文状況</div>
<div style="position:absolute;left:274.00px;top:468.80px;width:2px;height:2px;border-radius:50%;background:#333"></div>
<div style="position:absolute;top:464.74px;font-size:9.6px;line-height:11.52px;color:#1a1a1a;white-space:nowrap;-webkit-text-stroke:0.1px #1a1a1a;left:280px;">注文履歴</div>
<div style="position:absolute;left:274.00px;top:480.20px;width:2px;height:2px;border-radius:50%;background:#333"></div>
<div style="position:absolute;top:476.14px;font-size:9.6px;line-height:11.52px;color:#1a1a1a;white-space:nowrap;-webkit-text-stroke:0.1px #1a1a1a;left:280px;">出荷状況</div>
<div style="position:absolute;top:433.25px;font-size:12px;line-height:14.399999999999999px;color:#1a1a1a;white-space:nowrap;-webkit-text-stroke:0.1px #1a1a1a;left:314.0px;width:400px;text-align:center;letter-spacing:-0.35px;">注文状況</div>
<div style="position:absolute;left:476.00px;top:460.50px;width:2px;height:2px;border-radius:50%;background:#333"></div>
<div style="position:absolute;top:456.60px;font-size:10px;line-height:12.0px;color:#1a1a1a;white-space:nowrap;-webkit-text-stroke:0.1px #1a1a1a;left:481.3px;letter-spacing:-0.2px;word-spacing:1px;">Order 1</div>
<div style="position:absolute;left:476.00px;top:471.70px;width:2px;height:2px;border-radius:50%;background:#333"></div>
<div style="position:absolute;top:467.80px;font-size:10px;line-height:12.0px;color:#1a1a1a;white-space:nowrap;-webkit-text-stroke:0.1px #1a1a1a;left:481.3px;letter-spacing:-0.2px;word-spacing:1px;">Order 2</div>
<svg style="position:absolute;left:618px;top:2.2px;overflow:visible" width="37.99" height="15.72" viewBox="0 0 58 24">
<text x="1" y="6" font-size="5.6" fill="#555" font-family="Liberation Sans" textLength="24" lengthAdjust="spacingAndGlyphs">catalog</text>
<circle cx="6" cy="12.7" r="5.9" fill="#e4187b"/><rect x="0" y="12.5" width="4.7" height="10.4" rx="1.6" fill="#e4187b"/><circle cx="6.2" cy="12.8" r="1.9" fill="#fff"/>
<circle cx="19.2" cy="12.9" r="5.7" fill="#4a4a4a"/><rect x="20.3" y="7.2" width="4.5" height="11.6" rx="0.8" fill="#4a4a4a"/><circle cx="18.8" cy="13" r="1.9" fill="#fff"/>
<rect x="26.1" y="3.3" width="4.6" height="15.45" rx="1" fill="#4a4a4a"/><rect x="25.6" y="7.3" width="6.8" height="3.1" fill="#4a4a4a"/>
<rect x="34.4" y="8.8" width="4.3" height="9.95" rx="0.8" fill="#1db56f"/><g transform="translate(36.5,5.3)"><rect x="-0.9" y="-3.1" width="1.8" height="1.6" rx="0.5" transform="rotate(0)" fill="#1db56f"/><rect x="-0.9" y="-3.1" width="1.8" height="1.6" rx="0.5" transform="rotate(60)" fill="#1db56f"/><rect x="-0.9" y="-3.1" width="1.8" height="1.6" rx="0.5" transform="rotate(120)" fill="#1db56f"/><rect x="-0.9" y="-3.1" width="1.8" height="1.6" rx="0.5" transform="rotate(180)" fill="#1db56f"/><rect x="-0.9" y="-3.1" width="1.8" height="1.6" rx="0.5" transform="rotate(240)" fill="#1db56f"/><rect x="-0.9" y="-3.1" width="1.8" height="1.6" rx="0.5" transform="rotate(300)" fill="#1db56f"/><circle r="2.3" fill="#1db56f"/><circle r="0.9" fill="#fff"/></g>
<g transform="translate(48.3,13.3)"><rect x="-2.3" y="-7.9" width="4.6" height="4" rx="1.2" transform="rotate(0)" fill="#4a4a4a"/><rect x="-2.3" y="-7.9" width="4.6" height="4" rx="1.2" transform="rotate(60)" fill="#4a4a4a"/><rect x="-2.3" y="-7.9" width="4.6" height="4" rx="1.2" transform="rotate(120)" fill="#4a4a4a"/><rect x="-2.3" y="-7.9" width="4.6" height="4" rx="1.2" transform="rotate(180)" fill="#4a4a4a"/><rect x="-2.3" y="-7.9" width="4.6" height="4" rx="1.2" transform="rotate(240)" fill="#4a4a4a"/><rect x="-2.3" y="-7.9" width="4.6" height="4" rx="1.2" transform="rotate(300)" fill="#4a4a4a"/><circle r="6.2" fill="#4a4a4a"/><circle r="4.4" fill="#fff"/><circle r="3.3" fill="none" stroke="#4a4a4a" stroke-width="0.8"/></g>
</svg>
<div style="position:absolute;top:6.44px;font-size:9.6px;line-height:11.52px;color:#1a1a1a;white-space:nowrap;font-weight:bold;-webkit-text-stroke:0.15px #111;left:658px;letter-spacing:-0.25px;">管理コンソール</div>
<div style="position:absolute;top:68.44px;font-size:9.6px;line-height:11.52px;color:#1a1a1a;white-space:nowrap;-webkit-text-stroke:0.1px #1a1a1a;left:461.5px;width:400px;text-align:center;">各マスタデータ</div>
<div style="position:absolute;top:112.75px;font-size:9.6px;line-height:11.5px;color:#1a1a1a;white-space:nowrap;-webkit-text-stroke:0.1px #1a1a1a;left:463px;width:400px;text-align:center;">イラスト<br>リスト<br>メディア<br>コンテンツデータ</div>
<svg style="position:absolute;left:645px;top:35px" width="35" height="30" viewBox="645 35 35 30">
<path d="M657.2,38.9 H667.6 L673,44.3 V59.2 a1.8,1.8 0 0 1 -1.8,1.8 H657.7 a1.8,1.8 0 0 1 -1.8,-1.8 V40.4 a1.5,1.5 0 0 1 1.3,-1.5 Z" fill="#fff" stroke="#404040" stroke-width="1.4" stroke-linejoin="round"/>
<path d="M667.3,38.9 L673,44.6 H668.5 a1.2,1.2 0 0 1 -1.2,-1.2 Z" fill="#404040"/>
<rect x="650.6" y="43.6" width="14.6" height="13.9" fill="#f4fbf6" stroke="#1e7145" stroke-width="1.4"/>
<path d="M653.6,46.6 L661.8,54.6 M661.8,46.6 L653.6,54.6" stroke="#1e7145" stroke-width="2.4"/>
</svg>
<svg style="position:absolute;left:645px;top:80px" width="35" height="30" viewBox="645 80 35 30">
<path d="M652.5,83.4 H661 V89.5 H666.5 V105 H652.5 a1.2,1.2 0 0 1 -1.2,-1.2 V84.6 a1.2,1.2 0 0 1 1.2,-1.2 Z" fill="#1a7ae8"/>
<path d="M662.2,84.2 L666.3,88.4 H662.2 Z" fill="#1a7ae8"/>
<rect x="656.6" y="91.1" width="18.9" height="10" rx="2" fill="#fff"/>
<rect x="657.6" y="92" width="16.9" height="8.2" rx="1.6" fill="#1a7ae8"/>
<text x="659.3" y="99.2" font-size="7.2" font-weight="bold" fill="#fff" font-family="Liberation Sans" textLength="12.6" lengthAdjust="spacingAndGlyphs">ZIP</text>
</svg>
<div style="position:absolute;top:172.62px;font-size:12.8px;line-height:15.36px;color:#1a1a1a;white-space:nowrap;font-weight:bold;-webkit-text-stroke:0.15px #111;left:466.70000000000005px;width:400px;text-align:center;">基幹システム</div>
<div style="position:absolute;top:201.14px;font-size:9.6px;line-height:11.52px;color:#1a1a1a;white-space:nowrap;-webkit-text-stroke:0.1px #1a1a1a;left:466.70000000000005px;width:400px;text-align:center;">マスタ連携を自動化</div>
<div style="position:absolute;top:225.24px;font-size:9.6px;line-height:11.52px;color:#1a1a1a;white-space:nowrap;-webkit-text-stroke:0.1px #1a1a1a;left:466.70000000000005px;width:400px;text-align:center;">マスタ連携オプション</div>
<div style="position:absolute;top:247.35px;font-size:12px;line-height:14.399999999999999px;color:#1a1a1a;white-space:nowrap;-webkit-text-stroke:0.1px #1a1a1a;left:466.9px;width:400px;text-align:center;letter-spacing:-0.35px;">BOM 連携</div>
<div style="position:absolute;left:622.50px;top:275.20px;width:2px;height:2px;border-radius:50%;background:#333"></div>
<div style="position:absolute;top:271.14px;font-size:9.6px;line-height:11.52px;color:#1a1a1a;white-space:nowrap;-webkit-text-stroke:0.1px #1a1a1a;left:628.7px;">品目仕様</div>
<div style="position:absolute;left:622.50px;top:287.00px;width:2px;height:2px;border-radius:50%;background:#333"></div>
<div style="position:absolute;top:282.94px;font-size:9.6px;line-height:11.52px;color:#1a1a1a;white-space:nowrap;-webkit-text-stroke:0.1px #1a1a1a;left:628.7px;">推奨品目</div>
<div style="position:absolute;left:622.50px;top:298.80px;width:2px;height:2px;border-radius:50%;background:#333"></div>
<div style="position:absolute;top:294.74px;font-size:9.6px;line-height:11.52px;color:#1a1a1a;white-space:nowrap;-webkit-text-stroke:0.1px #1a1a1a;left:628.7px;">変更履歴</div>
<div style="position:absolute;left:622.50px;top:310.60px;width:2px;height:2px;border-radius:50%;background:#333"></div>
<div style="position:absolute;top:306.54px;font-size:9.6px;line-height:11.52px;color:#1a1a1a;white-space:nowrap;-webkit-text-stroke:0.1px #1a1a1a;left:628.7px;">供給停止</div>
<div style="position:absolute;top:335.15px;font-size:12px;line-height:14.399999999999999px;color:#1a1a1a;white-space:nowrap;-webkit-text-stroke:0.1px #1a1a1a;left:466.9px;width:400px;text-align:center;letter-spacing:-0.35px;">ERP 連携</div>
<div style="position:absolute;left:622.50px;top:363.30px;width:2px;height:2px;border-radius:50%;background:#333"></div>
<div style="position:absolute;top:359.24px;font-size:9.6px;line-height:11.52px;color:#1a1a1a;white-space:nowrap;-webkit-text-stroke:0.1px #1a1a1a;left:628.7px;">品目</div>
<div style="position:absolute;left:622.50px;top:374.70px;width:2px;height:2px;border-radius:50%;background:#333"></div>
<div style="position:absolute;top:370.64px;font-size:9.6px;line-height:11.52px;color:#1a1a1a;white-space:nowrap;-webkit-text-stroke:0.1px #1a1a1a;left:628.7px;">価格</div>
<div style="position:absolute;left:622.50px;top:386.10px;width:2px;height:2px;border-radius:50%;background:#333"></div>
<div style="position:absolute;top:382.04px;font-size:9.6px;line-height:11.52px;color:#1a1a1a;white-space:nowrap;-webkit-text-stroke:0.1px #1a1a1a;left:628.7px;">在庫</div>
<div style="position:absolute;left:622.50px;top:397.50px;width:2px;height:2px;border-radius:50%;background:#333"></div>
<div style="position:absolute;top:393.44px;font-size:9.6px;line-height:11.52px;color:#1a1a1a;white-space:nowrap;-webkit-text-stroke:0.1px #1a1a1a;left:628.7px;">ユーザ</div>
<div style="position:absolute;top:427.60px;font-size:9.6px;line-height:11.4px;color:#1a1a1a;white-space:nowrap;-webkit-text-stroke:0.1px #1a1a1a;left:466.70000000000005px;width:400px;text-align:center;">オンラインオーダ<br>オプション</div>
<div style="position:absolute;top:458.95px;font-size:12px;line-height:14.399999999999999px;color:#1a1a1a;white-space:nowrap;-webkit-text-stroke:0.1px #1a1a1a;left:466.79999999999995px;width:400px;text-align:center;letter-spacing:-0.35px;">ERP 連携</div>
<div style="position:absolute;left:622.50px;top:486.70px;width:2px;height:2px;border-radius:50%;background:#333"></div>
<div style="position:absolute;top:482.64px;font-size:9.6px;line-height:11.52px;color:#1a1a1a;white-space:nowrap;-webkit-text-stroke:0.1px #1a1a1a;left:628.7px;">注文</div>
<div style="position:absolute;left:622.50px;top:497.90px;width:2px;height:2px;border-radius:50%;background:#333"></div>
<div style="position:absolute;top:493.84px;font-size:9.6px;line-height:11.52px;color:#1a1a1a;white-space:nowrap;-webkit-text-stroke:0.1px #1a1a1a;left:628.7px;">出荷</div>
<svg style="position:absolute;left:770.6999999999999px;top:13.799999999999999px" width="32.2" height="32.2" viewBox="-16.1 -16.1 32.2 32.2">
<defs><clipPath id="pc1"><circle r="12.684"/></clipPath></defs>
<circle r="15.1" fill="#f50c7a"/>
<path d="M-10.721,13.59 L-10.721,7.0969999999999995 C-10.721,3.02 -6.342,1.8119999999999998 0,1.8119999999999998 C6.342,1.8119999999999998 10.721,3.02 10.721,7.0969999999999995 L10.721,13.59 Z" fill="#fff" clip-path="url(#pc1)"/>
<circle cx="0" cy="-4.379" r="6.492999999999999" fill="#fff" stroke="#f50c7a" stroke-width="1.1"/>
</svg>
<div style="position:absolute;top:48.44px;font-size:9.6px;line-height:11.52px;color:#1a1a1a;white-space:nowrap;-webkit-text-stroke:0.1px #1a1a1a;left:586.5px;width:400px;text-align:center;">品目情報管理者</div>
<svg style="position:absolute;left:774px;top:72.2px;overflow:visible" width="25" height="13.8" viewBox="0 0 25 13.8">
<rect x="0.75" y="0.75" width="23.5" height="12.3" fill="#fff3cf" stroke="#cfae4c" stroke-width="1.5"/>
<path d="M1,1 L12.5,11.040000000000001 L24,1 M1,12.8 L7.5,6.9 M24,12.8 L17.5,6.9" fill="none" stroke="#cfae4c" stroke-width="1.2"/>
</svg>
<div style="position:absolute;top:92.04px;font-size:9.6px;line-height:11.52px;color:#1a1a1a;white-space:nowrap;-webkit-text-stroke:0.1px #1a1a1a;left:586.5px;width:400px;text-align:center;">登録完了メール通知</div>
<div style="position:absolute;top:127.80px;font-size:9.6px;line-height:11.4px;color:#1a1a1a;white-space:nowrap;-webkit-text-stroke:0.1px #1a1a1a;left:734.5px;">所定フォーマットの各<br>マスタファイルでマス<br>ターデータを標準管理</div>
<svg style="position:absolute;left:35.3px;top:268.9px" width="34" height="34" viewBox="-17 -17 34 34">
<defs><clipPath id="pc2"><circle r="13.44"/></clipPath></defs>
<circle r="16" fill="#fb6f06"/>
<path d="M-11.36,14.4 L-11.36,7.52 C-11.36,3.2 -6.72,1.92 0,1.92 C6.72,1.92 11.36,3.2 11.36,7.52 L11.36,14.4 Z" fill="#fff" clip-path="url(#pc2)"/>
<circle cx="0" cy="-4.64" r="6.88" fill="#fff" stroke="#fb6f06" stroke-width="1.1"/>
</svg>
<div style="position:absolute;top:303.84px;font-size:9.6px;line-height:11.52px;color:#1a1a1a;white-space:nowrap;-webkit-text-stroke:0.1px #1a1a1a;left:-147.7px;width:400px;text-align:center;">Patio 利用ユーザ</div>
<svg style="position:absolute;left:38px;top:328px" width="30" height="25" viewBox="0 0 30 25">
<path d="M2,1.7 H4.5 L7,17.5 H22" fill="none" stroke="#1e7ee6" stroke-width="1.6" stroke-linejoin="round"/>
<path d="M5,7 H26.5 L22,17.5" fill="none" stroke="#1e7ee6" stroke-width="1.6" stroke-linejoin="round"/>
<circle cx="7.5" cy="21.8" r="2" fill="#1e7ee6"/><circle cx="18.5" cy="21.8" r="2" fill="#1e7ee6"/>
<path d="M6,20.3 H20" stroke="#1e7ee6" stroke-width="1.5"/>
</svg>
<svg style="position:absolute;left:40.2px;top:363.8px;overflow:visible" width="25.2" height="14" viewBox="0 0 25.2 14">
<rect x="0.75" y="0.75" width="23.7" height="12.5" fill="#fff3cf" stroke="#cfae4c" stroke-width="1.5"/>
<path d="M1,1 L12.6,11.200000000000001 L24.2,1 M1,13 L7.56,7.0 M24.2,13 L17.639999999999997,7.0" fill="none" stroke="#cfae4c" stroke-width="1.2"/>
</svg>
<div style="position:absolute;top:382.14px;font-size:9.6px;line-height:11.52px;color:#1a1a1a;white-space:nowrap;-webkit-text-stroke:0.1px #1a1a1a;left:-147.3px;width:400px;text-align:center;">注文受付メール通知</div>
<svg style="position:absolute;left:0;top:0" width="840" height="523" viewBox="0 0 840 523"><polygon points="73.36,268.95 117.43,244.38 118.86,246.96 130.30,234.00 113.26,236.91 114.70,239.49 70.64,264.05" fill="#ffe6cc" stroke="#dca948" stroke-width="1" stroke-linejoin="miter"/><polygon points="130.53,442.92 74.00,402.59 75.71,400.19 59.10,395.40 69.03,409.55 70.74,407.15 127.27,447.48" fill="#ffe6cc" stroke="#dca948" stroke-width="1" stroke-linejoin="miter"/><polygon points="749.65,45.55 706.28,69.36 704.98,66.99 692.90,79.90 710.27,76.64 708.97,74.27 752.35,50.45" fill="#f8cecc" stroke="#cf8a87" stroke-width="1" stroke-linejoin="miter"/><polygon points="702.01,110.57 740.46,90.23 741.72,92.62 754.00,79.90 736.58,82.90 737.84,85.28 699.39,105.63" fill="#f8cecc" stroke="#cf8a87" stroke-width="1" stroke-linejoin="miter"/><polygon points="551.70,105.40 570.70,112.25 570.70,108.40 602.00,108.40 602.00,112.25 621.00,105.40 602.00,98.55 602.00,102.40 570.70,102.40 570.70,98.55" fill="#f8cecc" stroke="#cf8a87" stroke-width="1" stroke-linejoin="miter"/><polygon points="551.70,271.40 570.70,278.25 570.70,274.40 602.00,274.40 602.00,278.25 621.00,271.40 602.00,264.55 602.00,268.40 570.70,268.40 570.70,264.55" fill="#dae8fc" stroke="#8fa9d3" stroke-width="1" stroke-linejoin="miter"/><polygon points="551.80,440.60 570.30,447.45 570.30,443.60 602.10,443.60 602.10,447.45 620.60,440.60 602.10,433.75 602.10,437.60 570.30,437.60 570.30,433.75" fill="#d5e8d4" stroke="#9cc385" stroke-width="1" stroke-linejoin="miter"/><line x1="191.9" y1="280.5" x2="191.9" y2="301.3" stroke="#5c5ce0" stroke-width="1.2"/><polygon points="188.70000000000002,299.5 191.9,301.1 195.1,299.5 191.9,306.3" fill="#1010d8" stroke="#1010d8" stroke-width="0.4"/><line x1="191.9" y1="389.4" x2="191.9" y2="423.8" stroke="#5c5ce0" stroke-width="1.2"/><polygon points="188.70000000000002,422.0 191.9,423.6 195.1,422.0 191.9,428.8" fill="#1010d8" stroke="#1010d8" stroke-width="0.4"/><line x1="245.3" y1="458.3" x2="259.8" y2="458.3" stroke="#5c5ce0" stroke-width="1.2"/><polygon points="258.0,455.1 259.6,458.3 258.0,461.5 264.8,458.3" fill="#1010d8" stroke="#1010d8" stroke-width="0.4"/></svg>
</body></html>
